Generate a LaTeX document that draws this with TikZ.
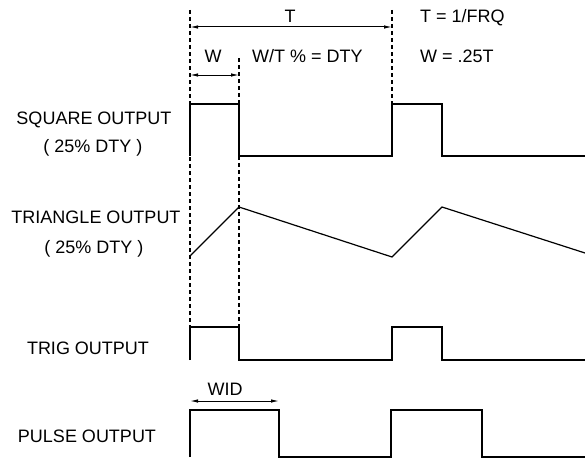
\documentclass[tikz,border=0pt]{standalone}
\usepackage{fontspec}
\setmainfont{Liberation Sans}
\usetikzlibrary{arrows.meta}
\begin{document}
\begin{tikzpicture}[x=1pt,y=-1pt,
  wave/.style={line width=1.2pt, line join=miter},
  guide/.style={line width=1.2pt, dash pattern=on 4pt off 3pt},
  dim/.style={line width=1pt, {Latex[length=8pt,width=3.5pt]}-{Latex[length=8pt,width=3.5pt]}},
  lbl/.style={font=\fontsize{18}{21}\selectfont, inner sep=0pt}]
\useasboundingbox (0,0) rectangle (585,460);
% guide lines
\coordinate (g1t) at (190,10);  \coordinate (g1b) at (190,327);
\coordinate (g2t) at (239,58);  \coordinate (g2b) at (239,327);
\coordinate (g3t) at (392,10);  \coordinate (g3b) at (392,104);
\draw[guide] (g1t) -- (g1b);
\draw[guide] (g2t) -- (g2b);
\draw[guide] (g3t) -- (g3b);
% dimension arrows
\coordinate (Ta) at (190,27);   \coordinate (Tb) at (392,27);
\coordinate (Wa) at (190,75);   \coordinate (Wb) at (239,75);
\coordinate (WIDa) at (190,401); \coordinate (WIDb) at (279,401);
\draw[dim] (Ta) -- (Tb);
\draw[dim] (Wa) -- (Wb);
\draw[dim] (WIDa) -- (WIDb);
% top labels
\node[lbl, anchor=base] (tT) at (290,23) {T};
\node[lbl, anchor=base west] (tFRQ) at (420,23) {T = 1/FRQ};
\node[lbl, anchor=base] (tW) at (213,63) {W};
\node[lbl, anchor=base west] (tDTY) at (252,63) {W/T \% = DTY};
\node[lbl, anchor=base west] (tW25) at (420,63) {W = .25T};
\node[lbl, anchor=base] (tWID) at (225,395) {WID};
% left labels
\node[lbl, anchor=base] (lsq) at (94,124) {SQUARE OUTPUT};
\node[lbl, anchor=base] (lsq2) at (93,152) {( 25\% DTY )};
\node[lbl, anchor=base] (ltr) at (96,223) {TRIANGLE OUTPUT};
\node[lbl, anchor=base] (ltr2) at (94,253) {( 25\% DTY )};
\node[lbl, anchor=base] (ltg) at (88,354) {TRIG OUTPUT};
\node[lbl, anchor=base] (lpu) at (87,442) {PULSE OUTPUT};
% waveforms
\draw[wave] (190,156) -- (190,104) -- (239,104) -- (239,156) -- (392,156) -- (392,104) -- (442,104) -- (442,156) -- (585,156);
\draw[wave] (190,256) -- (239,207) -- (392,257) -- (442,207) -- (585,253);
\draw[wave] (190,360) -- (190,327) -- (239,327) -- (239,360) -- (392,360) -- (392,327) -- (442,327) -- (442,360) -- (585,360);
\draw[wave] (190,457) -- (190,410) -- (279,410) -- (279,457) -- (391,457) -- (391,410) -- (482,410) -- (482,457) -- (585,457);
\end{tikzpicture}
\end{document}
